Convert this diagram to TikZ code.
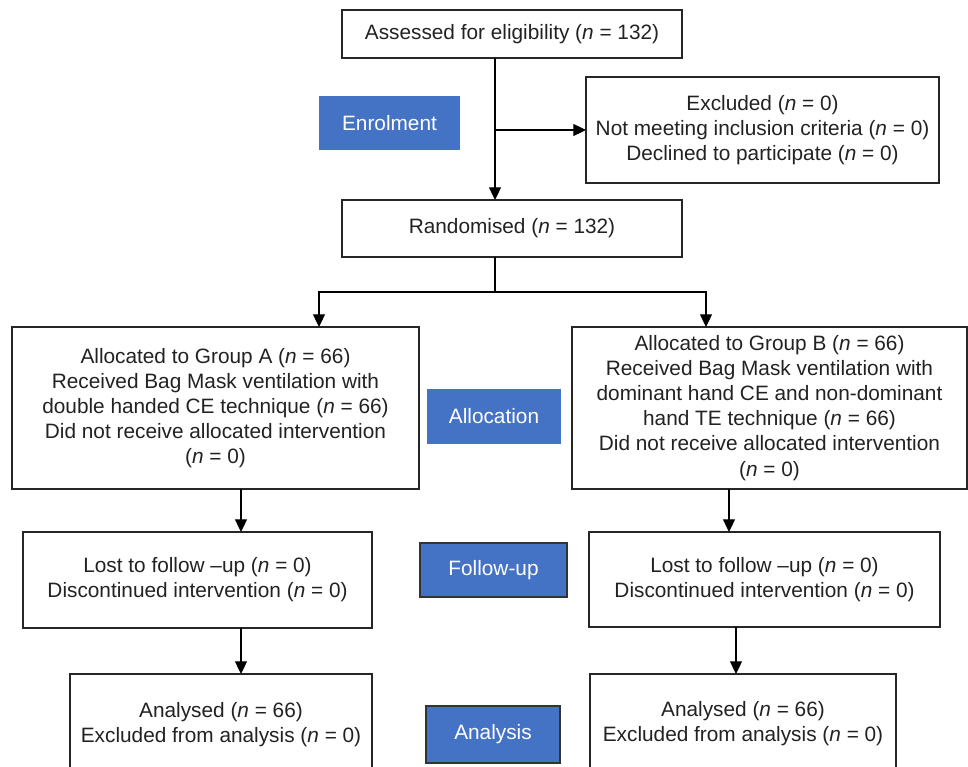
\documentclass[tikz,border=0pt]{standalone}
\usepackage{fontspec}
\setmainfont{Liberation Sans}
\usetikzlibrary{arrows.meta}
\newcommand\pxu{0.75pt}
\definecolor{lblue}{HTML}{4472C4}
\definecolor{txt}{HTML}{222222}
\tikzset{
  box/.style={draw=black!85, line width=1.4*\pxu, fill=white, inner sep=0pt, outer sep=0pt,
    align=center, text=txt, font=\fontsize{15.6}{18.8}\selectfont},
  stage/.style={fill=lblue, inner sep=0pt, outer sep=0pt, text=white,
    font=\fontsize{15.6}{18.8}\selectfont},
  stageb/.style={stage, draw=black!80, line width=1.4*\pxu},
  conn/.style={draw=black, line width=1.1*\pxu},
  arr/.style={conn, -{Triangle[length=9.5pt, width=9pt]}},
}
\newcommand\nn{\textit{n}}
\begin{document}
\begin{tikzpicture}[x=\pxu, y=-\pxu]
\useasboundingbox (0,0) rectangle (968,767);
\clip (0,0) rectangle (968,767);
\fill[white] (0,0) rectangle (968,767);

\node[box, minimum width=340*\pxu, minimum height=48*\pxu] (assess) at (512,34) {Assessed for eligibility (\nn{} = 132)};
\node[stage, minimum width=141*\pxu, minimum height=54*\pxu] (enrol) at (389.5,123) {Enrolment};
\node[box, minimum width=353*\pxu, minimum height=106*\pxu] (excl) at (762.5,130) {Excluded (\nn{} = 0)\\Not meeting inclusion criteria (\nn{} = 0)\\Declined to participate (\nn{} = 0)};
\node[box, minimum width=340*\pxu, minimum height=57*\pxu] (rand) at (512,228.5) {Randomised (\nn{} = 132)};

\node[box, minimum width=407*\pxu, minimum height=162*\pxu] (grpA) at (215.5,408) {Allocated to Group A (\nn{} = 66)\\Received Bag Mask ventilation with\\double handed CE technique (\nn{} = 66)\\Did not receive allocated intervention\\(\nn{} = 0)};
\node[stage, minimum width=134*\pxu, minimum height=55*\pxu] (alloc) at (494,416.5) {Allocation};
\node[box, minimum width=395*\pxu, minimum height=162*\pxu] (grpB) at (769.5,408) {Allocated to Group B (\nn{} = 66)\\Received Bag Mask ventilation with\\dominant hand CE and non-dominant\\hand TE technique (\nn{} = 66)\\Did not receive allocated intervention\\(\nn{} = 0)};

\node[box, minimum width=349*\pxu, minimum height=96*\pxu] (folA) at (197.5,580) {Lost to follow --up (\nn{} = 0)\\Discontinued intervention (\nn{} = 0)};
\node[stageb, minimum width=147*\pxu, minimum height=54*\pxu] (fu) at (493.5,570) {Follow-up};
\node[box, minimum width=351*\pxu, minimum height=95*\pxu] (folB) at (764.5,579.5) {Lost to follow --up (\nn{} = 0)\\Discontinued intervention (\nn{} = 0)};

\node[box, minimum width=302*\pxu, minimum height=101*\pxu] (anA) at (221,724.5) {Analysed (\nn{} = 66)\\Excluded from analysis (\nn{} = 0)};
\node[stageb, minimum width=134*\pxu, minimum height=57*\pxu] (ana) at (493,734.5) {Analysis};
\node[box, minimum width=306*\pxu, minimum height=99*\pxu] (anB) at (743,723.5) {Analysed (\nn{} = 66)\\Excluded from analysis (\nn{} = 0)};

\coordinate (mx) at (495,0);
\coordinate (split) at (495,292);
\coordinate (xa) at (319,0);
\coordinate (xb) at (706,0);
\coordinate (ca) at (241,0);
\coordinate (cb1) at (729,0);
\coordinate (cb2) at (736,0);

\draw[arr] (assess.south -| mx) -- (rand.north -| mx);
\draw[arr] (mx |- excl.west) -- (excl.west);
\draw[conn] (rand.south -| mx) -- (split);
\draw[arr] (split) -| (xa |- grpA.north);
\draw[arr] (split) -| (xb |- grpB.north);
\draw[arr] (ca |- grpA.south) -- (ca |- folA.north);
\draw[arr] (ca |- folA.south) -- (ca |- anA.north);
\draw[arr] (cb1 |- grpB.south) -- (cb1 |- folB.north);
\draw[arr] (cb2 |- folB.south) -- (cb2 |- anB.north);
\end{tikzpicture}
\end{document}
